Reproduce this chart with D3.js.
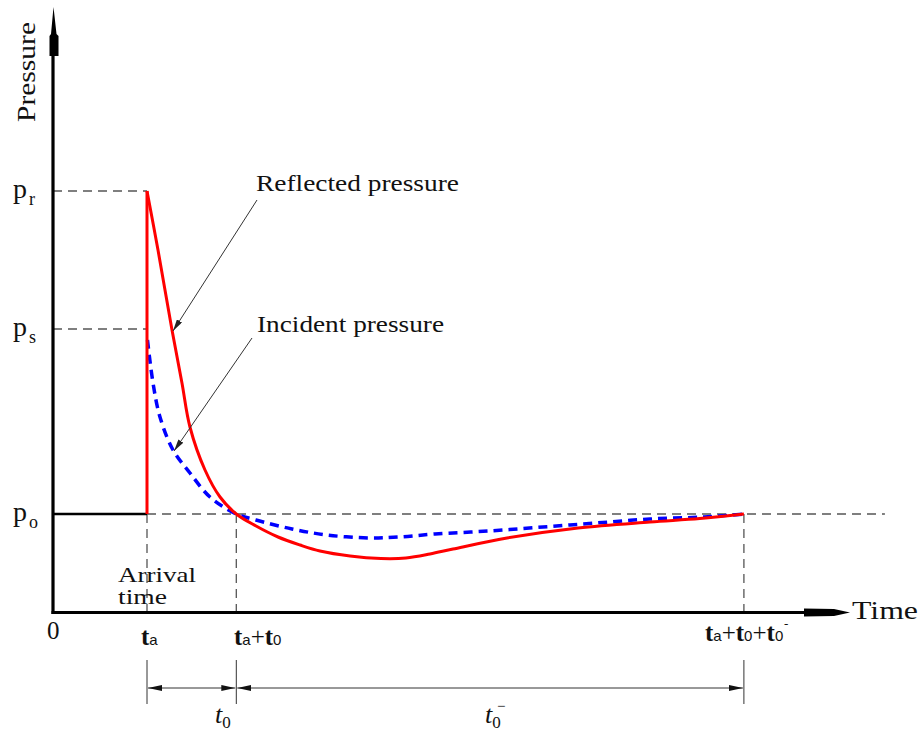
<!DOCTYPE html>
<html>
<head>
<meta charset="utf-8">
<title>Blast pressure - time history</title>
<script src="https://cdn.jsdelivr.net/npm/d3@7"></script>
<style>
  body { margin: 0; background: #fff; }
  svg text { font-family: "Liberation Serif", "Times New Roman", Times, serif; fill: #111; }
</style>
</head>
<body>
<div id="chart"></div>
<script>
// key times: arrival ta, ta + t0, ta + t0 + t0-
var keyTimes = [1.0, 1.95, 7.35];
// pressure levels: reflected peak pr, incident peak ps, ambient po
var levelNames = ["r", "s", "o"];
var levelValues = [3.23, 1.85, 0];

// reflected pressure, from the peak onwards  [time, pressure]
var reflected = [
  [1.0, 3.23], [1.117, 2.64], [1.266, 1.84], [1.372, 1.31], [1.457, 0.87],
  [1.617, 0.44], [1.777, 0.17], [1.95, 0], [2.16, -0.12], [2.394, -0.23],
  [2.628, -0.31], [2.84, -0.37], [3.16, -0.42], [3.489, -0.445], [3.755, -0.44],
  [4.01, -0.4], [4.255, -0.35], [4.83, -0.24], [5.585, -0.14], [6.351, -0.08],
  [6.88, -0.045], [7.35, 0]
];

// incident pressure  [time, pressure]
var incident = [
  [1.005, 1.74], [1.064, 1.31], [1.138, 0.97], [1.277, 0.64], [1.457, 0.41],
  [1.67, 0.17], [1.95, 0], [2.16, -0.06], [2.543, -0.15], [2.915, -0.21],
  [3.372, -0.24], [3.681, -0.23], [4.064, -0.2], [4.638, -0.17], [5.213, -0.13],
  [5.777, -0.09], [6.351, -0.05], [6.926, -0.03], [7.35, 0]
];

var width = 924, height = 735;
var x = d3.scaleLinear().domain([0, 8.5]).range([53, 852]);
var y = d3.scaleLinear().domain([-0.985, 5.07]).range([612.5, 7]);

var ta = keyTimes[0], pr = levelValues[0], ps = levelValues[1], po = levelValues[2];
var yFloor = y.domain()[0];

var svg = d3.select("#chart").append("svg")
    .attr("width", width)
    .attr("height", height)
    .attr("font-family", "'Liberation Serif', 'Times New Roman', Times, serif");

var defs = svg.append("defs");
function arrowMarker(id, color, len, half) {
  defs.append("marker")
      .attr("id", id)
      .attr("markerUnits", "userSpaceOnUse")
      .attr("viewBox", "0 0 " + len + " " + (half * 2))
      .attr("refX", len)
      .attr("refY", half)
      .attr("markerWidth", len)
      .attr("markerHeight", half * 2)
      .attr("orient", "auto-start-reverse")
    .append("path")
      .attr("d", "M0,0L" + len + "," + half + "L0," + (half * 2) + "Z")
      .attr("fill", color);
}
arrowMarker("dimArrow", "#111", 14, 3);
arrowMarker("noteArrow", "#222", 12, 3);

// dashed guide lines
var guides = svg.append("g")
    .attr("stroke", "#555")
    .attr("stroke-width", 1.3)
    .attr("stroke-dasharray", "9,6")
    .attr("fill", "none");

[pr, ps].forEach(function(p) {
  guides.append("line")
      .attr("x1", x(0)).attr("x2", x(ta))
      .attr("y1", y(p)).attr("y2", y(p));
});
guides.append("line")
    .attr("x1", x(ta)).attr("x2", x(8.85))
    .attr("y1", y(po)).attr("y2", y(po));
keyTimes.forEach(function(t) {
  guides.append("line")
      .attr("x1", x(t)).attr("x2", x(t))
      .attr("y1", y(po)).attr("y2", y(yFloor));
});

// axes
svg.append("line")
    .attr("x1", x(0)).attr("x2", x(0))
    .attr("y1", 50).attr("y2", y(yFloor) + 1.5)
    .attr("stroke", "#000").attr("stroke-width", 3.2);
svg.append("line")
    .attr("x1", x(0) - 1.5).attr("x2", 806)
    .attr("y1", y(yFloor)).attr("y2", y(yFloor))
    .attr("stroke", "#000").attr("stroke-width", 3.2);
// axis arrows
svg.append("path")
    .attr("d", "M53.5,7L51,34L49.5,36L49.5,56L58.5,56L58.5,36L56.5,34Z")
    .attr("fill", "#000");
svg.append("path")
    .attr("d", "M804,608.5L834,609L850,612.5L834,616L804,616.5Z")
    .attr("fill", "#000");

// ambient line before arrival
svg.append("line")
    .attr("x1", x(0)).attr("x2", x(ta))
    .attr("y1", y(po)).attr("y2", y(po))
    .attr("stroke", "#000").attr("stroke-width", 2.5);

var line = d3.line()
    .curve(d3.curveCatmullRom.alpha(0.5))
    .x(function(d) { return x(d[0]); })
    .y(function(d) { return y(d[1]); });

// incident pressure (blue dashed)
svg.append("path")
    .datum(incident)
    .attr("d", line)
    .attr("fill", "none")
    .attr("stroke", "#0000ff")
    .attr("stroke-width", 3.5)
    .attr("stroke-dasharray", "9,6");

// reflected pressure (red): jump at arrival then decay
svg.append("line")
    .attr("x1", x(ta)).attr("x2", x(ta))
    .attr("y1", y(po)).attr("y2", y(pr))
    .attr("stroke", "#ff0000").attr("stroke-width", 3);
svg.append("path")
    .datum(reflected)
    .attr("d", line)
    .attr("fill", "none")
    .attr("stroke", "#ff0000")
    .attr("stroke-width", 3);

// annotations
var notes = [
  {text: "Reflected pressure", tx: 256, ty: 191, len: 203, lx: 257, ly: 200, tip: reflected[2]},
  {text: "Incident pressure", tx: 257, ty: 332, len: 187, lx: 252, ly: 338, tip: incident[3]}
];
notes.forEach(function(n) {
  svg.append("text")
      .attr("x", n.tx).attr("y", n.ty)
      .attr("font-size", 24)
      .attr("textLength", n.len)
      .attr("lengthAdjust", "spacingAndGlyphs")
      .text(n.text);
  svg.append("line")
      .attr("x1", n.lx).attr("y1", n.ly)
      .attr("x2", x(n.tip[0]) + 1).attr("y2", y(n.tip[1]) + 1)
      .attr("stroke", "#333").attr("stroke-width", 1)
      .attr("marker-end", "url(#noteArrow)");
});

// axis titles
svg.append("text")
    .attr("transform", "translate(35,122) rotate(-90)")
    .attr("font-size", 26)
    .attr("textLength", 100)
    .attr("lengthAdjust", "spacingAndGlyphs")
    .text("Pressure");
svg.append("text")
    .attr("x", 852).attr("y", 619)
    .attr("font-size", 25)
    .attr("textLength", 66)
    .attr("lengthAdjust", "spacingAndGlyphs")
    .text("Time");

// pressure level labels
levelNames.forEach(function(name, i) {
  var yy = y(levelValues[i]) + 7;
  var t = svg.append("text").attr("x", 13).attr("y", yy);
  t.append("tspan").attr("font-size", 28).text("p");
  t.append("tspan").attr("font-size", 18).attr("dy", 7).attr("dx", 2).text(name);
});

// origin and arrival time
svg.append("text").attr("x", 47).attr("y", 639).attr("font-size", 25).text("0");
svg.append("text").attr("x", 118).attr("y", 582).attr("font-size", 21)
    .attr("textLength", 78).attr("lengthAdjust", "spacingAndGlyphs").text("Arrival");
svg.append("text").attr("x", 118).attr("y", 604).attr("font-size", 21)
    .attr("textLength", 49).attr("lengthAdjust", "spacingAndGlyphs").text("time");

// time labels under the axis
function timeLabel(xPos, yPos, parts) {
  var t = svg.append("text").attr("x", xPos).attr("y", yPos);
  parts.forEach(function(p) {
    var s = t.append("tspan").text(p);
    if (p === "t") s.attr("font-size", 25).attr("font-weight", "bold");
    else if (p === "+") s.attr("font-size", 25);
    else s.attr("font-size", 15)
        .attr("font-family", "'Liberation Sans', Arial, sans-serif");
  });
  return t;
}
timeLabel(141, 645, ["t", "a"]);
timeLabel(234, 645, ["t", "a", "+", "t", "0"]);
timeLabel(705, 641, ["t", "a", "+", "t", "0", "+", "t", "0"]);
svg.append("text").attr("x", 784).attr("y", 628)
    .attr("font-size", 13).text("-");

// dimension lines
var dimY = 688;
var dims = svg.append("g").attr("stroke", "#333").attr("stroke-width", 1);
keyTimes.forEach(function(t) {
  dims.append("line")
      .attr("x1", x(t)).attr("x2", x(t))
      .attr("y1", 660).attr("y2", 704);
});
d3.pairs(keyTimes).forEach(function(p) {
  dims.append("line")
      .attr("x1", x(p[0]) + 1).attr("x2", x(p[1]) - 1)
      .attr("y1", dimY).attr("y2", dimY)
      .attr("marker-start", "url(#dimArrow)")
      .attr("marker-end", "url(#dimArrow)");
});

function dimLabel(xPos, withMinus) {
  var t = svg.append("text").attr("x", xPos).attr("y", 723);
  t.append("tspan").attr("font-size", 26).attr("font-style", "italic").text("t");
  t.append("tspan").attr("font-size", 17).attr("dy", 5).text("0");
  if (withMinus) {
    svg.append("text").attr("x", xPos + 12).attr("y", 711)
        .attr("font-size", 15).text("\u2212");
  }
}
dimLabel(215, false);
dimLabel(485, true);
</script>
</body>
</html>
